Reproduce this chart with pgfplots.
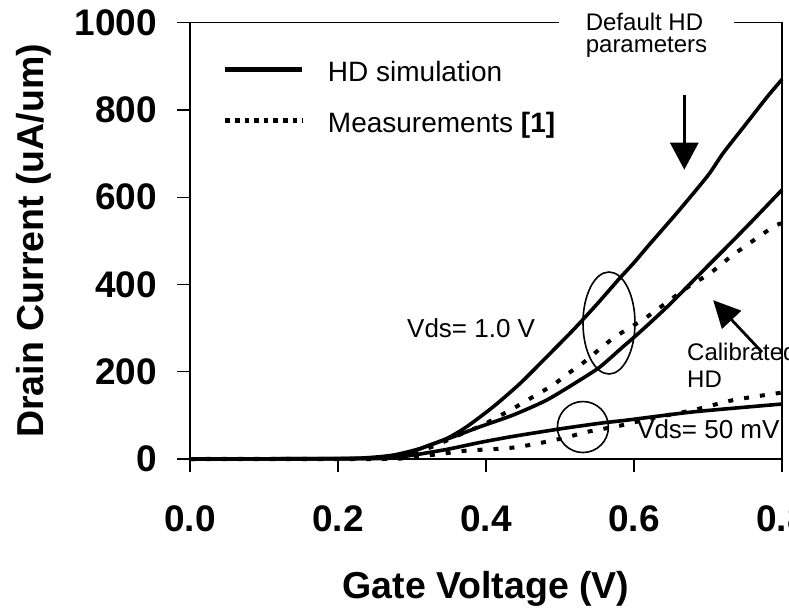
\documentclass[border=0pt]{standalone}
\usepackage{fontspec}
\setmainfont{Liberation Sans}
\usepackage{pgfplots}
\pgfplotsset{compat=1.18}
\usetikzlibrary{arrows.meta}
\begin{document}
\begin{tikzpicture}
\path[use as bounding box] (-190pt,-152pt) rectangle (599pt,459pt);
\begin{axis}[
  at={(0pt,0pt)}, anchor=south west,
  width=592pt, height=436.3pt, scale only axis,
  xmin=0, xmax=0.8, ymin=0, ymax=1000,
  clip=false,
  xtick={0,0.2,0.4,0.6,0.8}, xticklabels={0.0,0.2,0.4,0.6,0.8},
  ytick={0,200,400,600,800,1000}, yticklabels={0,200,400,600,800,1000},
  tick align=outside, xtick pos=bottom, ytick pos=left,
  major tick length=12.5pt,
  axis line style={line width=1.4pt},
  every tick/.style={line width=1.4pt, black},
  /pgf/number format/assume math mode=true,
  ticklabel style={font=\fontsize{37}{37}\selectfont\bfseries, inner sep=0pt},
  xticklabel style={yshift=-33.5pt},
  yticklabel style={xshift=-20.5pt},
  xlabel={Gate Voltage (V)}, ylabel={Drain Current (uA/um)},
  label style={font=\fontsize{37.5}{40}\selectfont\bfseries},
  xlabel style={at={(axis description cs:0.5,-0.298)}, anchor=center},
  ylabel style={at={(axis description cs:-0.2635,0.5)}, anchor=center},
  legend style={draw=none, fill=none, at={(0.0557,0.9106)}, anchor=north west,
    inner sep=0pt, outer sep=0pt, column sep=23pt, row sep=25pt,
    font=\fontsize{28}{28}\selectfont,
    nodes={inner sep=0pt, text height=20pt, text depth=6pt}},
  legend cell align=left,
  legend image code/.code={\draw[#1] (0pt,5pt) -- (77pt,5pt);},
]
\addlegendimage{line width=5pt}
\addlegendentry{HD simulation}
\addlegendimage{line width=4.5pt, dash pattern=on 4.6pt off 5pt}
\addlegendentry{Measurements \textbf{[1]}}

% Default HD parameters, Vds = 1.0 V
\addplot[forget plot, line width=3.6pt, smooth, tension=0.4] coordinates {
 (0,0) (0.20,1) (0.24,3) (0.275,9) (0.311,24) (0.347,47) (0.374,74) (0.41,120)
 (0.446,173) (0.482,234) (0.518,296) (0.55,355) (0.58,413) (0.60,450) (0.62,490)
 (0.66,568) (0.70,650) (0.72,700) (0.75,765) (0.78,830) (0.80,870)};
% Calibrated HD, Vds = 1.0 V
\addplot[forget plot, line width=3.6pt, smooth, tension=0.4] coordinates {
 (0,0) (0.22,1) (0.26,3) (0.29,10) (0.324,32) (0.356,51) (0.392,74) (0.437,101)
 (0.482,135) (0.527,181) (0.554,211) (0.585,257) (0.61,294) (0.645,349)
 (0.675,400) (0.703,448) (0.73,494) (0.76,546) (0.80,617)};
% Measurements, Vds = 1.0 V
\addplot[forget plot, line width=4pt, dash pattern=on 5pt off 11pt, smooth, tension=0.4] coordinates {
 (0,0) (0.25,1) (0.29,6) (0.33,30) (0.369,59) (0.396,78) (0.412,93) (0.437,116)
 (0.464,143) (0.491,170) (0.511,196) (0.531,220) (0.572,277) (0.617,325)
 (0.671,392) (0.703,426) (0.734,468) (0.788,532) (0.80,540)};
% HD simulation, Vds = 50 mV
\addplot[forget plot, line width=3.6pt, smooth, tension=0.4] coordinates {
 (0,0) (0.25,1) (0.29,6) (0.347,22) (0.392,38) (0.437,52) (0.50,69) (0.554,82)
 (0.59,89) (0.68,108) (0.80,126)};
% Measurements, Vds = 50 mV
\addplot[forget plot, line width=4pt, dash pattern=on 5pt off 11pt, smooth, tension=0.4] coordinates {
 (0,0) (0.26,0) (0.30,4) (0.34,12) (0.378,20) (0.405,22) (0.441,27) (0.477,38)
 (0.51,50) (0.536,62) (0.58,76) (0.626,94) (0.68,112) (0.734,135) (0.795,151) (0.80,153)};

\draw[line width=1.6pt] (axis cs:0.5662,311.7) ellipse [x radius=26pt, y radius=51pt];
\draw[line width=1.6pt] (axis cs:0.531,73.3) circle [radius=25.5pt];
\draw[line width=2.8pt, -{Triangle[length=27pt,width=28pt]}] (axis cs:0.668,835) -- (axis cs:0.668,663);
\draw[line width=2.8pt, -{Triangle[length=27pt,width=26pt]}] (axis cs:0.773,245) -- (axis cs:0.707,364);
\node[anchor=base west, inner sep=0pt, font=\fontsize{26}{26}\selectfont] at (axis cs:0.2932,279.6) {Vds= 1.0 V};
\node[anchor=base west, inner sep=0pt, font=\fontsize{26}{26}\selectfont] at (axis cs:0.604,48.1) {Vds= 50 mV};
\node[anchor=base west, inner sep=0pt, font=\fontsize{24}{24}\selectfont] at (axis cs:0.6716,226.9) {Calibrated};
\node[anchor=base west, inner sep=0pt, font=\fontsize{24}{24}\selectfont] at (axis cs:0.6716,165) {HD};
\coordinate (dflt) at (axis cs:0.6169,1000);
\end{axis}
\node[fill=white, anchor=north, inner xsep=27pt, inner ysep=0pt, yshift=10.2pt, align=left,
  font=\fontsize{24}{22}\selectfont] at (dflt) {Default HD\\parameters};
\end{tikzpicture}
\end{document}
